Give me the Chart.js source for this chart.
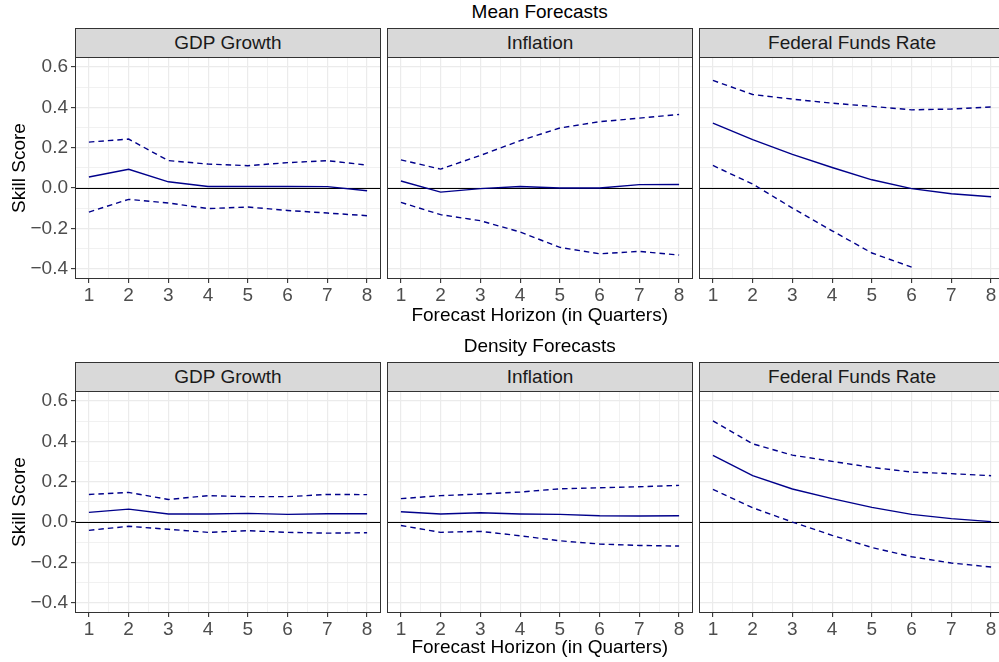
<!DOCTYPE html>
<html>
<head>
<meta charset="utf-8">
<script src="https://cdn.jsdelivr.net/npm/chart.js@4.4.1/dist/chart.umd.min.js"></script>
<style>
  html, body { margin: 0; padding: 0; background: #ffffff; }
  body { width: 999px; height: 662px; position: relative; overflow: hidden;
         font-family: "Liberation Sans", Arial, sans-serif; }
  .abs { position: absolute; }
  .strip { position: absolute; box-sizing: border-box; border: 1px solid #333333;
           background: #D9D9D9; color: #1A1A1A; font-size: 19px;
           display: flex; align-items: center; justify-content: center; white-space: nowrap; }
  .txt { position: absolute; font-size: 19px; line-height: 19px; color: #000000; white-space: nowrap; }
  canvas { position: absolute; }
</style>
</head>
<body>
<script>
// Forecast horizons (quarters) and y-axis labels
const horizons = [1, 2, 3, 4, 5, 6, 7, 8];
const yTickLabels = [-0.4, -0.2, 0.0, 0.2, 0.4, 0.6];
const variables = ['GDP Growth', 'Inflation', 'Federal Funds Rate'];
const sections = ['Mean Forecasts', 'Density Forecasts'];

// Mean forecasts: skill score with upper / lower bands
const meanGdpUpper = [0.228, 0.243, 0.136, 0.119, 0.111, 0.126, 0.136, 0.114];
const meanGdpScore = [0.055, 0.093, 0.031, 0.008, 0.008, 0.008, 0.007, -0.013];
const meanGdpLower = [-0.119, -0.056, -0.074, -0.102, -0.094, -0.111, -0.124, -0.137];

const meanInfUpper = [0.140, 0.094, 0.162, 0.235, 0.298, 0.329, 0.347, 0.365];
const meanInfScore = [0.035, -0.020, -0.003, 0.008, 0.000, 0.000, 0.017, 0.018];
const meanInfLower = [-0.071, -0.132, -0.162, -0.218, -0.294, -0.326, -0.314, -0.332];

const meanFfrUpper = [0.534, 0.464, 0.441, 0.421, 0.405, 0.388, 0.392, 0.402];
const meanFfrScore = [0.322, 0.240, 0.167, 0.102, 0.041, -0.003, -0.028, -0.043];
const meanFfrLower = [0.112, 0.020, -0.099, -0.212, -0.322, -0.392, null, null];

// Density forecasts
const densGdpUpper = [0.137, 0.147, 0.112, 0.131, 0.126, 0.126, 0.137, 0.136];
const densGdpScore = [0.048, 0.064, 0.040, 0.040, 0.043, 0.038, 0.041, 0.041];
const densGdpLower = [-0.041, -0.021, -0.036, -0.051, -0.043, -0.051, -0.055, -0.053];

const densInfUpper = [0.116, 0.131, 0.139, 0.149, 0.165, 0.170, 0.175, 0.182];
const densInfScore = [0.051, 0.040, 0.046, 0.040, 0.038, 0.031, 0.030, 0.031];
const densInfLower = [-0.017, -0.051, -0.046, -0.068, -0.093, -0.109, -0.116, -0.119];

const densFfrUpper = [0.502, 0.388, 0.332, 0.301, 0.271, 0.248, 0.240, 0.230];
const densFfrScore = [0.331, 0.230, 0.164, 0.116, 0.073, 0.038, 0.017, 0.002];
const densFfrLower = [0.162, 0.071, 0.000, -0.066, -0.126, -0.172, -0.203, -0.223];

const panelData = [
  [[meanGdpUpper, meanGdpScore, meanGdpLower],
   [meanInfUpper, meanInfScore, meanInfLower],
   [meanFfrUpper, meanFfrScore, meanFfrLower]],
  [[densGdpUpper, densGdpScore, densGdpLower],
   [densInfUpper, densInfScore, densInfLower],
   [densFfrUpper, densFfrScore, densFfrLower]]
];

// Layout of the facet grid
const colLeft = [75, 387, 699];
const panelW = 306;
const plotTop = [57, 391];
const plotH = 222;
const stripTop = [28, 362];
const stripH = 30;
const yAxisW = 75;
const xAxisH = 40;
const lineColor = '#00008B';
const gridColor = '#EBEBEB';
const frameColor = '#333333';

Chart.defaults.font.family = '"Liberation Sans", Arial, sans-serif';
Chart.defaults.font.size = 19;
Chart.defaults.color = '#4D4D4D';

function fmt(v) {
  const s = v.toFixed(1);
  return s.startsWith('-') ? '\u2212' + s.slice(1) : s;
}
const isMajorY = v => Math.abs(Math.round(v * 10)) % 2 === 0;
const isMajorX = v => Math.abs(v - Math.round(v)) < 1e-9;

const panelFrame = {
  id: 'panelFrame',
  beforeDatasetsDraw(chart) {
    const { ctx, chartArea: a, scales } = chart;
    const y0 = Math.round(scales.y.getPixelForValue(0)) + 0.5;
    ctx.save();
    ctx.strokeStyle = '#000000';
    ctx.lineWidth = 1.1;
    ctx.beginPath();
    ctx.moveTo(a.left, y0);
    ctx.lineTo(a.right, y0);
    ctx.stroke();
    ctx.restore();
  },
  afterDraw(chart) {
    const { ctx, chartArea: a } = chart;
    ctx.save();
    ctx.strokeStyle = frameColor;
    ctx.lineWidth = 1;
    ctx.strokeRect(a.left + 0.5, a.top + 0.5, a.right - a.left - 1, a.bottom - a.top - 1);
    ctx.restore();
  }
};

function addText(cls, text, css) {
  const d = document.createElement('div');
  d.className = cls;
  d.textContent = text;
  Object.assign(d.style, css);
  document.body.appendChild(d);
  return d;
}

function makePanel(row, col) {
  const withY = col === 0;
  const left = withY ? colLeft[col] - yAxisW : colLeft[col];
  const width = withY ? panelW + yAxisW : panelW;
  const height = plotH + xAxisH;

  const cv = document.createElement('canvas');
  cv.width = width;
  cv.height = height;
  cv.style.left = left + 'px';
  cv.style.top = plotTop[row] + 'px';
  cv.style.width = width + 'px';
  cv.style.height = height + 'px';
  document.body.appendChild(cv);

  const [upper, score, lower] = panelData[row][col];
  const pts = arr => horizons.map((h, i) => ({ x: h, y: arr[i] }));
  const base = {
    borderColor: lineColor, borderWidth: 1.4, pointRadius: 0, pointHoverRadius: 0,
    tension: 0, fill: false, spanGaps: false, borderCapStyle: 'butt'
  };

  new Chart(cv, {
    type: 'line',
    data: {
      datasets: [
        Object.assign({ label: 'upper', data: pts(upper), borderDash: [5.5, 4] }, base),
        Object.assign({ label: 'score', data: pts(score) }, base),
        Object.assign({ label: 'lower', data: pts(lower), borderDash: [5.5, 4] }, base)
      ]
    },
    options: {
      responsive: false,
      animation: false,
      devicePixelRatio: 1,
      events: [],
      layout: { padding: 0 },
      plugins: { legend: { display: false }, tooltip: { enabled: false }, title: { display: false } },
      scales: {
        x: {
          type: 'linear',
          min: 0.65, max: 8.35,
          afterBuildTicks(s) {
            const t = [];
            for (let i = 2; i <= 16; i++) t.push({ value: i / 2 });
            s.ticks = t;
          },
          afterFit(s) { s.height = xAxisH; s.paddingLeft = 0; s.paddingRight = 0; },
          border: { display: false },
          grid: {
            color: gridColor,
            lineWidth: c => (c.tick && isMajorX(c.tick.value)) ? 1.2 : 0.7,
            drawTicks: true,
            tickLength: 4,
            tickWidth: 1.1,
            tickColor: c => (c.tick && isMajorX(c.tick.value)) ? frameColor : 'rgba(0,0,0,0)'
          },
          ticks: {
            autoSkip: false, maxRotation: 0, padding: 1, color: '#4D4D4D',
            callback: v => isMajorX(v) ? String(Math.round(v)) : ''
          }
        },
        y: {
          type: 'linear',
          min: -0.451, max: 0.65,
          afterBuildTicks(s) {
            const t = [];
            for (let i = -4; i <= 6; i++) t.push({ value: i / 10 });
            s.ticks = t;
          },
          afterFit(s) { s.width = withY ? yAxisW : 0; s.paddingTop = 0; s.paddingBottom = 0; },
          border: { display: false },
          grid: {
            color: gridColor,
            lineWidth: c => (c.tick && isMajorY(c.tick.value)) ? 1.2 : 0.7,
            drawTicks: withY,
            tickLength: 4,
            tickWidth: 1.1,
            tickColor: c => (c.tick && isMajorY(c.tick.value)) ? frameColor : 'rgba(0,0,0,0)'
          },
          ticks: {
            display: withY, autoSkip: false, padding: 3, color: '#4D4D4D',
            callback: v => isMajorY(v) ? fmt(v) : ''
          }
        }
      }
    },
    plugins: [panelFrame]
  });

  addText('strip', variables[col], {
    left: colLeft[col] + 'px', top: stripTop[row] + 'px',
    width: panelW + 'px', height: stripH + 'px'
  });
}

for (let r = 0; r < 2; r++) {
  for (let c = 0; c < 3; c++) makePanel(r, c);
}

// Section titles, axis titles
const titleBase = [2.2, 336.2];
const xTitleTop = [304.6, 637];
for (let r = 0; r < 2; r++) {
  addText('txt', sections[r], { left: '539.7px', top: titleBase[r] + 'px', transform: 'translateX(-50%)' });
  addText('txt', 'Forecast Horizon (in Quarters)', { left: '539.7px', top: xTitleTop[r] + 'px', transform: 'translateX(-50%)' });
  const cy = plotTop[r] + plotH / 2;
  addText('txt', 'Skill Score', { left: '18px', top: cy + 'px', transform: 'translate(-50%,-50%) rotate(-90deg)' });
}
</script>
</body>
</html>
